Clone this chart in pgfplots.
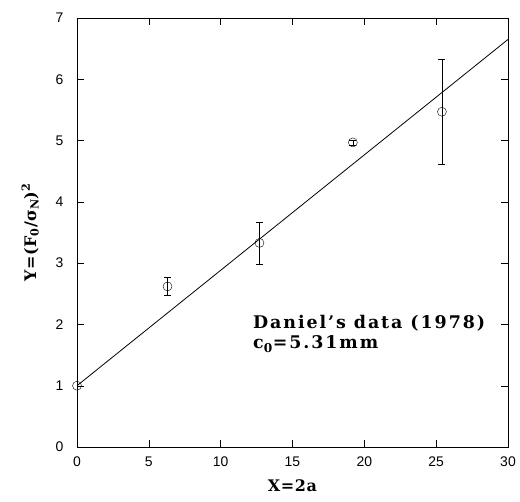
\documentclass[border=0pt]{standalone}
\usepackage{fontspec}
\setmainfont{DejaVu Serif}
\setsansfont{Liberation Sans}
\usepackage{pgfplots}
\pgfplotsset{compat=1.18}

\begin{document}
\begin{tikzpicture}
\begin{axis}[
    scale only axis,
    width=431bp, height=429bp,
    xmin=0, xmax=30,
    ymin=0, ymax=7,
    xtick={0,5,...,30},
    ytick={0,1,...,7},
    tick align=inside,
    major tick length=7bp,
    tick style={black, thin},
    axis line style={black, thin},
    /pgf/number format/assume math mode=true,
    tick label style={font=\sffamily\fontsize{14}{16}\selectfont},
    yticklabel style={xshift=-10bp},
    xticklabel style={yshift=-6bp},
    xlabel={\bfseries\addfontfeature{LetterSpace=4}X=2a},
    ylabel={\bfseries\addfontfeature{LetterSpace=4}Y=(F\textsubscript{0}/σ\textsubscript{N})\textsuperscript{2}},
    label style={font=\fontsize{16}{19}\selectfont},
    xlabel style={yshift=-6bp},
    ylabel style={yshift=10bp},
    clip=false,
  ]

  % fitted line
  \addplot[black, thick] coordinates {(0,1.0) (30,6.65)};

  % measured points with error bars
  \addplot[black, only marks, mark=o, mark size=4.5bp,
    error bars/.cd, y dir=both, y explicit,
    error bar style={black, thin}, error mark options={black, mark size=3.5bp, rotate=90}]
    coordinates {
      (6.3,2.62) +- (0,0.15)
      (12.7,3.33) +- (0,0.34)
      (19.2,4.97) +- (0,0.04)
      (25.4,5.47) +- (0,0.86)
    };
  \addplot[black, only marks, mark=o, mark size=4.5bp] coordinates {(0,1.0)};

  \node[anchor=base west, inner sep=0pt, font=\bfseries\fontsize{17.5}{21}\selectfont]
    at (axis cs:12.25,1.94) {\addfontfeature{LetterSpace=11}Daniel's data (1978)};
  \node[anchor=base west, inner sep=0pt, font=\bfseries\fontsize{17.5}{21}\selectfont]
    at (axis cs:12.25,1.60) {\addfontfeature{LetterSpace=11}c\textsubscript{0}=5.31mm};
\end{axis}
% page margins as in the reference
\path (current axis.south west) ++(-77bp,-55bp);
\path (current axis.north east) ++(12bp,18bp);
\end{tikzpicture}
\end{document}
